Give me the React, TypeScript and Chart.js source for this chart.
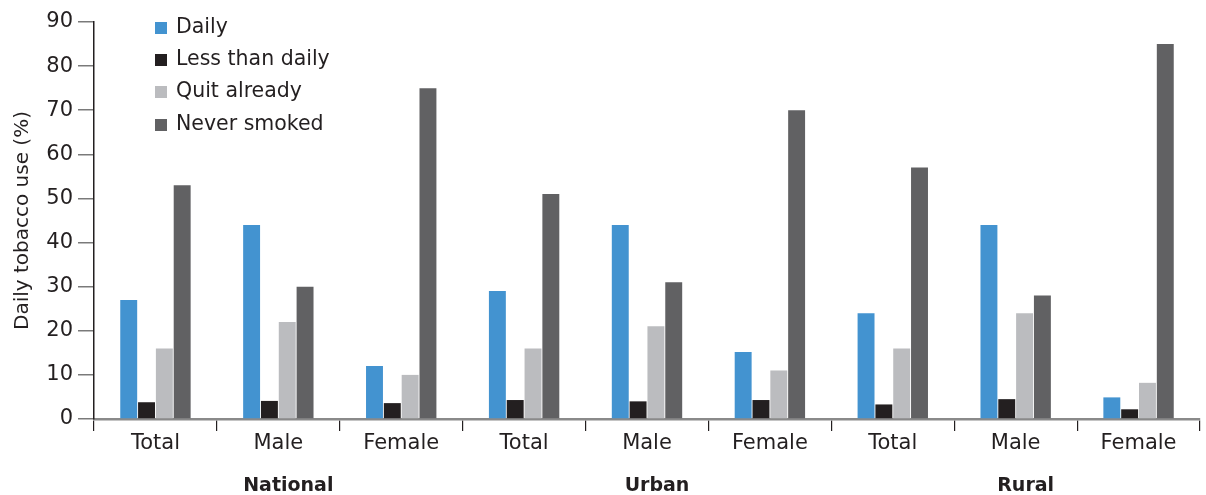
import React, { useEffect, useRef } from "react";
import { Chart, registerables } from "chart.js";
Chart.register(...registerables);

const categories = ["Total", "Male", "Female", "Total", "Male", "Female", "Total", "Male", "Female"];
const groups = ["National", "Urban", "Rural"];
const seriesNames = ["Daily", "Less than daily", "Quit already", "Never smoked"];
const daily = [27, 44, 12, 29, 44, 15.2, 24, 44, 4.9];
const lessThanDaily = [3.8, 4.1, 3.6, 4.3, 4.0, 4.3, 3.3, 4.5, 2.2];
const quitAlready = [16, 22, 10, 16, 21, 11, 16, 24, 8.2];
const neverSmoked = [53, 30, 75, 51, 31, 70, 57, 28, 85];
const yMin = 0;
const yMax = 90;
const yStep = 10;
const yTitle = "Daily tobacco use (%)";

const colors = ["#4393d0", "#231f20", "#bbbcbf", "#616163"];
const FONT = "'DejaVu Sans', sans-serif";
const TEXT = "#231f20";

export default function App() {
  const ref = useRef<HTMLCanvasElement | null>(null);
  useEffect(() => {
    if (!ref.current) return;
    const seriesData = [daily, lessThanDaily, quitAlready, neverSmoked];
    const overlay = {
      id: "overlay",
      afterDraw(chart: any) {
        const ctx = chart.ctx;
        const x = chart.scales.x;
        ctx.save();
        // legend
        ctx.font = `20.5px ${FONT}`;
        ctx.textBaseline = "middle";
        ctx.textAlign = "left";
        const ly = [28, 60, 92, 125];
        seriesNames.forEach((n, i) => {
          ctx.fillStyle = colors[i];
          ctx.fillRect(155, ly[i] - 6, 12, 12);
          ctx.fillStyle = TEXT;
          ctx.fillText(n, 176, ly[i]);
        });
        // group labels
        ctx.font = `bold 19px ${FONT}`;
        ctx.textAlign = "center";
        groups.forEach((g, gi) => {
          const a = x.getPixelForValue(gi * 3);
          const b = x.getPixelForValue(gi * 3 + 2);
          ctx.fillText(g, (a + b) / 2 + 10, 486);
        });
        ctx.restore();
      },
    };
    const chart = new Chart(ref.current, {
      type: "bar",
      data: {
        labels: categories,
        datasets: seriesNames.map((n, i) => ({
          label: n,
          data: seriesData[i],
          backgroundColor: colors[i],
          borderWidth: 0,
          barPercentage: 0.95,
          categoryPercentage: 0.58,
        })),
      },
      options: {
        animation: false,
        responsive: false,
        layout: { padding: { left: 0, right: 6, top: 22, bottom: 0 } },
        plugins: { legend: { display: false }, tooltip: { enabled: false } },
        scales: {
          x: {
            afterFit(s: any) {
              s.height = 76;
            },
            grid: {
              display: true,
              drawOnChartArea: false,
              drawTicks: true,
              tickLength: 12,
              color: "#231f20",
              lineWidth: 1.2,
              offset: true,
            },
            border: { display: true, color: "#8a8a8a", width: 2.5 },
            ticks: {
              color: TEXT,
              font: { family: FONT, size: 21 },
              padding: 0,
              maxRotation: 0,
            },
          },
          y: {
            min: yMin,
            max: yMax,
            afterFit(s: any) {
              s.width = 94;
            },
            ticks: {
              stepSize: yStep,
              color: TEXT,
              font: { family: FONT, size: 21 },
              padding: 5,
            },
            grid: {
              display: true,
              drawOnChartArea: false,
              drawTicks: true,
              tickLength: 16,
              color: "#7a7a7a",
              lineWidth: 1.5,
            },
            border: { display: true, color: "#231f20", width: 1.5 },
            title: {
              display: true,
              text: yTitle,
              color: TEXT,
              font: { family: FONT, size: 20 },
              padding: { top: 11, bottom: 0 },
            },
          },
        },
      },
      plugins: [overlay],
    });
    return () => chart.destroy();
  }, []);
  return (
    <div style={{ position: "fixed", left: 0, top: 0, width: 1206, height: 495, background: "#fff" }}>
      <canvas ref={ref} width={1206} height={495} style={{ width: 1206, height: 495 }} />
    </div>
  );
}
